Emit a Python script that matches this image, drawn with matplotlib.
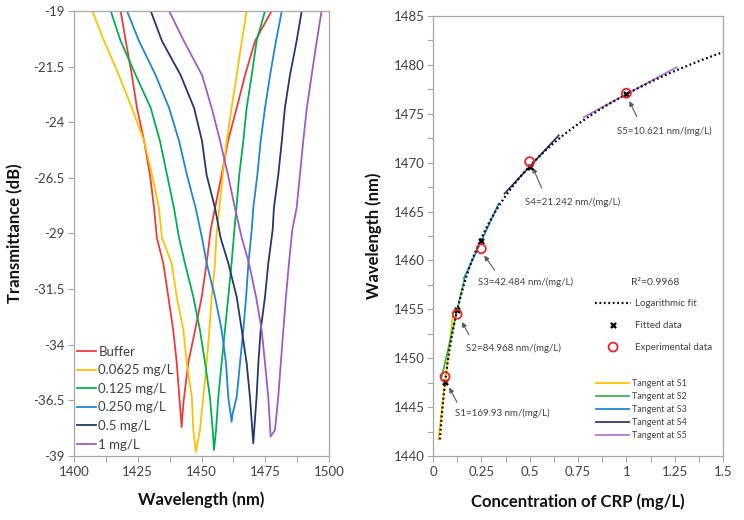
import matplotlib
matplotlib.use("Agg")
import matplotlib.pyplot as plt
import numpy as np

plt.rcParams['font.family'] = ['Lato', 'DejaVu Sans']

# ---------------- Left panel data: transmission spectra ----------------
series_labels = ["Buffer", "0.0625 mg/L", "0.125 mg/L", "0.250 mg/L", "0.5 mg/L", "1 mg/L"]
series_colors = ["#EE3A3A", "#FFC000", "#00B050", "#1F86D3", "#24386A", "#A05AC8"]

wl_buffer = [1418.3, 1420.3, 1422.7, 1424.7, 1427.5, 1429.8, 1431.4, 1432.5, 1435.0, 1437.0,
             1438.9, 1440.3, 1441.3, 1442.2, 1442.9, 1444.8, 1447.5, 1450.1, 1452.0, 1453.6,
             1455.3, 1457.9, 1460.4, 1463.8, 1467.1, 1471.0, 1477.5]
tr_buffer = [-19.0, -20.35, -21.88, -23.36, -24.84, -26.37, -27.85, -29.2, -30.33, -31.85,
             -33.34, -34.82, -36.35, -37.7, -36.62, -34.82, -33.34, -31.85, -30.33, -28.84,
             -27.85, -26.37, -24.84, -23.36, -21.88, -20.35, -19.0]

wl_c0625 = [1407.2, 1411.8, 1417.6, 1422.7, 1427.5, 1430.6, 1433.3, 1434.5, 1438.3, 1440.3,
            1442.9, 1444.2, 1446.2, 1446.8, 1447.8, 1449.4, 1450.7, 1452.0, 1453.1, 1454.0,
            1455.3, 1455.8, 1457.0, 1458.3, 1459.9, 1461.8, 1463.8, 1465.8, 1467.7]
tr_c0625 = [-19.0, -20.35, -21.88, -23.36, -24.84, -26.37, -27.85, -29.2, -30.33, -31.85,
            -33.34, -34.82, -36.35, -37.83, -38.81, -37.83, -36.35, -34.82, -33.34, -31.85,
            -30.33, -29.2, -27.85, -26.37, -24.84, -23.36, -21.88, -20.35, -19.0]

wl_c125 = [1414.4, 1418.3, 1424.2, 1430.1, 1433.7, 1436.5, 1439.2, 1441.2, 1443.5, 1446.8,
           1449.4, 1451.4, 1453.3, 1454.4, 1454.9, 1455.7, 1456.6, 1457.9, 1459.2, 1460.5,
           1461.8, 1462.9, 1463.7, 1464.8, 1466.4, 1467.7, 1469.7, 1471.6, 1474.9]
tr_c125 = [-19.0, -20.35, -21.88, -23.36, -24.84, -26.37, -27.85, -29.2, -30.33, -31.85,
           -33.34, -34.82, -36.35, -37.83, -38.73, -37.83, -36.35, -34.82, -33.34, -31.85,
           -30.33, -28.84, -27.85, -26.37, -24.84, -23.36, -21.88, -20.35, -19.0]

wl_c250 = [1420.8, 1425.5, 1432.0, 1437.3, 1441.2, 1444.3, 1447.7, 1450.2, 1452.0, 1455.3,
           1457.9, 1459.6, 1460.5, 1461.8, 1462.2, 1463.8, 1465.1, 1466.4, 1467.5, 1468.4,
           1469.7, 1470.3, 1471.9, 1473.2, 1474.9, 1476.9, 1479.2, 1481.5]
tr_c250 = [-19.0, -20.35, -21.88, -23.36, -24.84, -26.37, -27.85, -29.2, -30.33, -31.85,
           -33.34, -34.82, -36.35, -37.46, -37.1, -36.35, -34.82, -33.34, -31.85, -30.33,
           -28.84, -27.85, -26.37, -24.84, -23.36, -21.88, -20.35, -19.0]

wl_c500 = [1430.1, 1434.5, 1441.8, 1447.1, 1450.2, 1452.0, 1455.3, 1457.5, 1460.5, 1463.8,
           1465.8, 1467.7, 1469.0, 1470.3, 1471.6, 1472.3, 1473.2, 1474.9, 1476.2, 1477.9,
           1478.4, 1480.1, 1481.5, 1482.7, 1484.7, 1487.3, 1489.3]
tr_c500 = [-19.0, -20.35, -21.88, -23.36, -24.84, -26.37, -27.85, -29.2, -30.33, -31.85,
           -33.34, -34.82, -36.35, -38.43, -36.35, -34.82, -33.34, -31.85, -30.33, -28.84,
           -27.85, -26.37, -24.84, -23.36, -21.88, -20.35, -19.0]

wl_c1000 = [1437.3, 1443.1, 1450.2, 1454.0, 1457.3, 1460.4, 1463.1, 1465.8, 1468.6, 1471.4,
            1473.6, 1474.9, 1476.2, 1477.1, 1478.8, 1480.1, 1481.1, 1482.1, 1483.1, 1484.3,
            1485.6, 1487.3, 1488.6, 1489.9, 1491.3, 1493.2, 1495.2, 1497.1]
tr_c1000 = [-19.0, -20.35, -21.88, -23.36, -24.84, -26.37, -27.85, -29.2, -30.33, -31.85,
            -33.34, -34.82, -36.35, -38.13, -37.83, -36.35, -34.82, -33.34, -31.85, -30.33,
            -28.84, -27.85, -26.37, -24.84, -23.36, -21.88, -20.35, -19.0]

left_x_ticks = [1400, 1425, 1450, 1475, 1500]
left_y_ticks = [-19, -21.5, -24, -26.5, -29, -31.5, -34, -36.5, -39]
left_y_ticklabels = ["-19", "-21.5", "-24", "-26.5", "-29", "-31.5", "-34", "-36.5", "-39"]

# ---------------- Right panel data: calibration ----------------
concentration = [0.0625, 0.125, 0.25, 0.5, 1.0]
experimental_wl = [1448.1, 1454.5, 1461.2, 1470.1, 1477.1]
fitted_wl = [1447.55, 1454.9, 1462.0, 1469.6, 1477.0]
fit_log_coeff = 10.621
fit_intercept = 1477.0
fit_x_range = (0.036, 1.5)
sensitivities = [169.93, 84.968, 42.484, 21.242, 10.621]
tangent_x_ranges = [(0.028, 0.104), (0.045, 0.165), (0.16, 0.34), (0.37, 0.65), (0.78, 1.26)]
tangent_labels = ["Tangent at S1", "Tangent at S2", "Tangent at S3", "Tangent at S4", "Tangent at S5"]
tangent_colors = ["#FFC000", "#3DB552", "#1E88D2", "#2E3A7A", "#B27AD6"]
annot_texts = ["S1=169.93 nm/(mg/L)", "S2=84.968 nm/(mg/L)", "S3=42.484 nm/(mg/L)",
               "S4=21.242 nm/(mg/L)", "S5=10.621 nm/(mg/L)"]
annot_text_xy = [(0.112, 1444.4), (0.172, 1451.0), (0.233, 1457.8), (0.476, 1466.0), (0.95, 1473.25)]
annot_tail_xy = [(0.124, 1445.5), (0.186, 1452.4), (0.319, 1459.0), (0.562, 1467.4), (1.054, 1474.7)]
annot_head_xy = [(0.084, 1447.0), (0.150, 1453.7), (0.265, 1460.5), (0.516, 1469.5), (1.016, 1476.3)]

right_x_ticks = [0, 0.25, 0.5, 0.75, 1, 1.25, 1.5]
right_x_ticklabels = ["0", "0.25", "0.5", "0.75", "1", "1.25", "1.5"]
right_y_ticks = [1440, 1445, 1450, 1455, 1460, 1465, 1470, 1475, 1480, 1485]

# ---------------- Figure ----------------
W, H = 744, 520
fig = plt.figure(figsize=(W / 100, H / 100), dpi=100)

def rect(x0, y0, x1, y1):
    return [x0 / W, 1 - y1 / H, (x1 - x0) / W, (y1 - y0) / H]

spine_col = "#A6A6A6"
tick_col = "#404040"

def style_axes(ax):
    for s in ax.spines.values():
        s.set_color(spine_col)
        s.set_linewidth(0.9)
    ax.tick_params(which="both", direction="out", length=4, width=0.8, color=spine_col,
                   labelcolor=tick_col, labelsize=9.5, pad=3)
    ax.tick_params(axis="y", which="both", left=True, right=False)
    ax.tick_params(axis="x", which="both", bottom=True, top=False)

# Left
axL = fig.add_axes(rect(74, 11, 329, 456))
style_axes(axL)
wls = [wl_buffer, wl_c0625, wl_c125, wl_c250, wl_c500, wl_c1000]
trs = [tr_buffer, tr_c0625, tr_c125, tr_c250, tr_c500, tr_c1000]
for w, t, c, lab in zip(wls, trs, series_colors, series_labels):
    axL.plot(w, t, color=c, lw=1.3, label=lab)
axL.set_xlim(1400, 1500)
axL.set_ylim(-39, -19)
axL.set_xticks(left_x_ticks)
axL.set_xticks([1412.5, 1437.5, 1462.5, 1487.5], minor=True)
axL.set_yticks(left_y_ticks)
axL.set_yticklabels(left_y_ticklabels)
axL.set_xlabel("Wavelength (nm)", fontsize=12, fontweight="bold", color="#111111")
axL.set_ylabel("Transmittance (dB)", fontsize=12, fontweight="bold", color="#111111")
axL.xaxis.set_label_coords(0.5, -0.08)
axL.yaxis.set_label_coords(-0.2, 0.5)
legL = axL.legend(loc="upper left", bbox_to_anchor=(0.01, 0.248), frameon=False, fontsize=9.5,
                  handlelength=1.5, handletextpad=0.15, labelspacing=0.5, borderpad=0,
                  borderaxespad=0)
for t in legL.get_texts():
    t.set_color(tick_col)

# Right
axR = fig.add_axes(rect(433, 16, 723, 456))
style_axes(axR)
axR.set_xlim(0, 1.5)
axR.set_ylim(1440, 1485)
axR.set_xticks(right_x_ticks)
axR.set_xticklabels(right_x_ticklabels)
axR.set_xticks(np.arange(0.125, 1.5, 0.25), minor=True)
axR.set_yticks(right_y_ticks)
axR.set_yticks(np.arange(1442.5, 1485, 5), minor=True)
axR.tick_params(axis="y", which="both", pad=2)
axR.set_xlabel("Concentration of CRP (mg/L)", fontsize=12, fontweight="bold", color="#111111")
axR.set_ylabel("Wavelength (nm)", fontsize=12, fontweight="bold", color="#111111")
axR.xaxis.set_label_coords(0.5, -0.085)
axR.yaxis.set_label_coords(-0.175, 0.5)

tangent_handles = []
for (x0, x1), s, xc, yc, col, lab in zip(tangent_x_ranges, sensitivities, concentration,
                                         fitted_wl, tangent_colors, tangent_labels):
    xs = np.array([x0, x1])
    h, = axR.plot(xs, yc + s * (xs - xc), color=col, lw=1.3, label=lab, zorder=2)
    tangent_handles.append(h)

xf = np.linspace(fit_x_range[0], fit_x_range[1], 300)
fit_line, = axR.plot(xf, fit_intercept + fit_log_coeff * np.log(xf), color="black", lw=1.6,
                     linestyle=(0, (0.8, 1.2)), label="Logarithmic fit", zorder=3)
fit_pts = axR.scatter(concentration, fitted_wl, marker="X", s=24, color="black",
                      label="Fitted data", zorder=4, linewidths=0)
exp_pts = axR.scatter(concentration, experimental_wl, marker="o", s=42, facecolors="none",
                      edgecolors="#E8232A", linewidths=1.3, label="Experimental data", zorder=5)

for txt, txy, tail, head in zip(annot_texts, annot_text_xy, annot_tail_xy, annot_head_xy):
    axR.annotate("", xy=head, xytext=tail,
                 arrowprops=dict(arrowstyle="-|>", color="#595959", lw=0.8, mutation_scale=7,
                                 shrinkA=0, shrinkB=0))
    axR.text(txy[0], txy[1], txt, fontsize=7, color=tick_col, ha="left", va="center")

axR.text(1.147, 1457.7, "R²=0.9968", fontsize=7.5, color=tick_col, ha="center", va="center")

leg1 = axR.legend(handles=[fit_line, fit_pts, exp_pts], loc="upper left",
                  bbox_to_anchor=(0.559, 0.356), frameon=False, fontsize=7,
                  handlelength=3.7, handletextpad=0.45, labelspacing=1.3, borderpad=0,
                  borderaxespad=0, scatterpoints=1)
for t in leg1.get_texts():
    t.set_color(tick_col)
axR.add_artist(leg1)
leg2 = axR.legend(handles=tangent_handles, loc="upper left", bbox_to_anchor=(0.563, 0.175),
                  frameon=False, fontsize=6.5, handlelength=3.6, handletextpad=0.4,
                  labelspacing=0.45, borderpad=0, borderaxespad=0)
for t in leg2.get_texts():
    t.set_color(tick_col)

fig.savefig("out.png", dpi=100)
